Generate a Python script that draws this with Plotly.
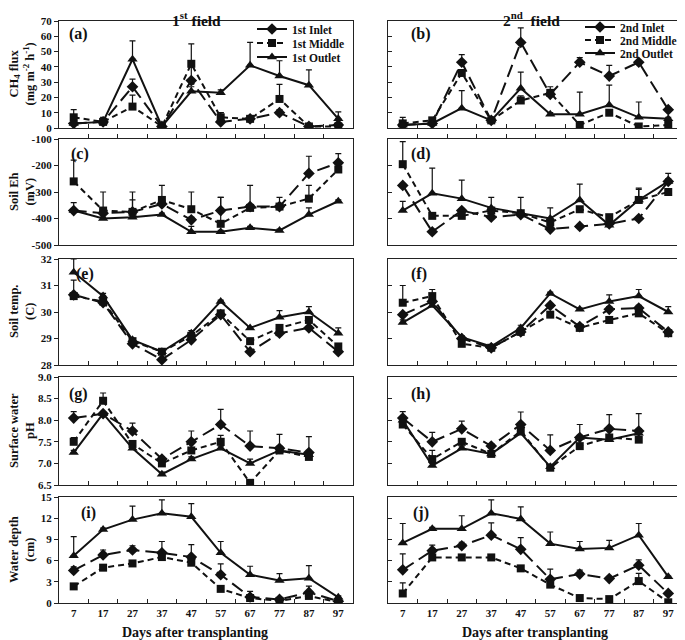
import plotly.graph_objects as go

# ---------------- data ----------------
days = [7, 17, 27, 37, 47, 57, 67, 77, 87, 97]
days_ph = [7, 17, 27, 37, 47, 57, 67, 77, 87]
minor_days = [12, 22, 32, 42, 52, 62, 72, 82, 92]
day_labels = ["7", "17", "27", "37", "47", "57", "67", "77", "87", "97"]

# (a) CH4 flux, 1st field
a_inlet = [3, 4, 27, 1, 31, 4, 6, 10, 1, 2]
a_inlet_err = [1, 1, 5, 0.5, 9, 6, 2, 2, 0.5, 1]
a_middle = [7, 4, 14, 1, 42, 7, 6, 19, 1, 1]
a_middle_err = [5, 2, 7.5, 0.5, 13, 3, 2, 9.5, 0.5, 0.5]
a_outlet = [3, 4, 45, 1, 24, 23, 41, 34, 28, 6]
a_outlet_err = [2, 3, 12, 1, 3, 2, 15, 10, 10, 4.5]

# (b) CH4 flux, 2nd field
b_inlet = [2, 3, 43, 5, 56, 22, 43, 34, 43, 12]
b_inlet_err = [1, 1, 5, 0.5, 9.5, 3, 3, 7, 1, 1]
b_middle = [3, 5, 36, 5, 18, 23, 2, 10, 1, 2]
b_middle_err = [4, 1, 2, 0.5, 3, 4, 0.5, 2, 0.5, 0.5]
b_outlet = [2, 3, 13, 5, 26, 9, 9, 15, 7, 6]
b_outlet_err = [1, 1, 11.5, 0.5, 10.5, 1, 14.5, 13, 10, 1]

# (c) Soil Eh, 1st field
c_inlet = [-370, -380, -375, -345, -405, -370, -355, -355, -230, -190]
c_inlet_err = [30, 5, 45, 5, 10, 50, 5, 5, 65, 35]
c_middle = [-260, -370, -375, -330, -365, -420, -360, -355, -325, -215]
c_middle_err = [80, 70, 75, 55, 65, 100, 85, 35, 50, 10]
c_outlet = [-370, -400, -395, -385, -450, -450, -435, -445, -385, -335]
c_outlet_err = [5, 5, 5, 5, 20, 5, 5, 5, 25, 5]

# (d) Soil Eh, 2nd field
d_inlet = [-275, -450, -370, -395, -385, -440, -430, -420, -400, -260]
d_inlet_err = [5, 5, 5, 5, 5, 5, 5, 5, 5, 10]
d_middle = [-195, -390, -390, -370, -380, -415, -365, -395, -330, -300]
d_middle_err = [85, 5, 5, 5, 5, 10, 5, 5, 45, 5]
d_outlet = [-370, -305, -325, -360, -380, -400, -330, -425, -330, -260]
d_outlet_err = [35, 95, 70, 40, 60, 40, 60, 5, 40, 30]

# (e) Soil temperature, 1st field
e_inlet = [30.65, 30.35, 28.8, 28.2, 28.95, 29.9, 28.5, 29.2, 29.4, 28.5]
e_inlet_err = [0.05, 0.05, 0.05, 0.05, 0.05, 0.05, 0.05, 0.05, 0.05, 0.05]
e_middle = [30.6, 30.4, 28.9, 28.5, 29.1, 29.95, 28.9, 29.4, 29.7, 28.7]
e_middle_err = [0.6, 0.1, 0.05, 0.05, 0.1, 0.1, 0.05, 0.1, 0.1, 0.1]
e_outlet = [31.5, 30.6, 28.95, 28.5, 29.2, 30.4, 29.4, 29.8, 30.0, 29.2]
e_outlet_err = [0.5, 0.1, 0.05, 0.05, 0.1, 0.05, 0.05, 0.25, 0.2, 0.2]

# (f) Soil temperature, 2nd field
f_inlet = [29.9, 30.4, 29.0, 28.65, 29.25, 30.25, 29.45, 30.1, 30.15, 29.25]
f_inlet_err = [0.05, 0.05, 0.05, 0.05, 0.05, 0.05, 0.05, 0.1, 0.1, 0.05]
f_middle = [30.35, 30.6, 28.8, 28.65, 29.25, 29.9, 29.4, 29.7, 29.95, 29.2]
f_middle_err = [0.65, 0.25, 0.05, 0.05, 0.05, 0.05, 0.05, 0.05, 0.05, 0.05]
f_outlet = [29.6, 30.25, 29.05, 28.7, 29.4, 30.7, 30.1, 30.4, 30.6, 30.0]
f_outlet_err = [0.1, 0.1, 0.05, 0.05, 0.1, 0.05, 0.05, 0.25, 0.25, 0.2]

# (g) Surface water pH, 1st field
g_inlet = [8.05, 8.15, 7.75, 7.1, 7.5, 7.9, 7.4, 7.35, 7.25]
g_inlet_err = [0.15, 0.05, 0.18, 0.05, 0.25, 0.35, 0.35, 0.05, 0.05]
g_middle = [7.5, 8.45, 7.45, 7.0, 7.3, 7.5, 6.55, 7.3, 7.15]
g_middle_err = [0.1, 0.18, 0.05, 0.05, 0.05, 0.15, 0.05, 0.05, 0.05]
g_outlet = [7.25, 8.15, 7.35, 6.75, 7.1, 7.35, 7.0, 7.3, 7.2]
g_outlet_err = [0.05, 0.05, 0.05, 0.05, 0.05, 0.05, 0.1, 0.37, 0.42]

# (h) Surface water pH, 2nd field
h_inlet = [8.05, 7.5, 7.8, 7.4, 7.9, 7.3, 7.6, 7.8, 7.75]
h_inlet_err = [0.15, 0.22, 0.18, 0.05, 0.29, 0.36, 0.3, 0.33, 0.05]
h_middle = [7.9, 7.1, 7.5, 7.22, 7.75, 6.9, 7.4, 7.6, 7.55]
h_middle_err = [0.05, 0.2, 0.05, 0.05, 0.05, 0.05, 0.05, 0.05, 0.05]
h_outlet = [8.0, 6.95, 7.35, 7.22, 7.7, 6.92, 7.6, 7.55, 7.7]
h_outlet_err = [0.05, 0.05, 0.05, 0.05, 0.05, 0.05, 0.05, 0.05, 0.45]

# (i) Water depth, 1st field
i_inlet = [4.6, 6.8, 7.5, 7.1, 6.5, 4.0, 0.85, 0.5, 1.5, 0.25]
i_inlet_err = [0.5, 0.7, 0.6, 1.6, 1.75, 1.55, 0.8, 0.2, 0.9, 0.1]
i_middle = [2.35, 5.0, 5.6, 6.5, 5.7, 2.0, 0.7, 0.3, 1.0, 0.1]
i_middle_err = [0.3, 0.2, 0.2, 0.2, 0.2, 0.3, 0.2, 0.1, 0.5, 0.1]
i_outlet = [6.7, 10.4, 11.8, 12.7, 12.2, 7.1, 4.0, 3.2, 3.5, 0.8]
i_outlet_err = [2.7, 0.2, 1.9, 1.9, 1.85, 1.6, 1.2, 0.95, 1.8, 0.2]

# (j) Water depth, 2nd field
j_inlet = [4.7, 7.4, 8.1, 9.6, 7.6, 3.35, 4.1, 3.45, 5.35, 1.35]
j_inlet_err = [2.25, 0.8, 0.5, 1.75, 1.65, 1.45, 0.55, 0.1, 0.75, 0.1]
j_middle = [1.35, 6.45, 6.45, 6.45, 4.9, 2.6, 0.7, 0.55, 3.1, 0.1]
j_middle_err = [1.5, 0.2, 0.1, 0.1, 0.1, 0.2, 0.1, 0.1, 1.1, 0.1]
j_outlet = [8.5, 10.5, 10.5, 12.7, 11.9, 8.4, 7.65, 7.8, 9.6, 3.7]
j_outlet_err = [2.75, 0.2, 1.85, 1.9, 1.7, 1.65, 1.05, 1.05, 1.65, 0.1]

# y-axis ticks per row
ch4_ticks = [0, 10, 20, 30, 40, 50, 60, 70]
eh_ticks = [-500, -400, -300, -200, -100]
temp_ticks = [28, 29, 30, 31, 32]
ph_ticks = [6.5, 7.0, 7.5, 8.0, 8.5, 9.0]
depth_ticks = [0, 3, 6, 9, 12, 15]

row_titles = ["CH<sub>4</sub> flux<br>(mg m<sup>-2</sup> h<sup>-1</sup>)",
              "Soil Eh<br>(mV)", "Soil temp.<br>(C)",
              "Surface water<br>pH", "Water depth<br>(cm)"]
panel_letters = ["(a)", "(b)", "(c)", "(d)", "(e)", "(f)", "(g)", "(h)", "(i)", "(j)"]

# ---------------- figure ----------------
W, H = 685, 640
OFF = 8                      # page body margin shifts the figure by this much
FONT = "Liberation Serif"
BLACK = "#111111"

def px2x(px):
    return (px - OFF) / W

def px2y(py):
    return 1 - (py - OFF) / H

fig = go.Figure()

col_px = [(59, 353), (388, 683)]
row_px = [(21, 128), (139, 245), (259, 365), (377, 485), (497, 603)]

def xd(c):
    return [px2x(col_px[c][0]), px2x(col_px[c][1])]

def yd(r):
    return [px2y(row_px[r][1]), px2y(row_px[r][0])]

styles = {
    "Inlet": dict(symbol="diamond", dash="13px,6px", size=9),
    "Middle": dict(symbol="square", dash="6px,4px", size=8),
    "Outlet": dict(symbol="triangle-up", dash="solid", size=9),
}
legend_ids = {(0, "Inlet"): "legend", (0, "Middle"): "legend2", (0, "Outlet"): "legend3",
              (1, "Inlet"): "legend4", (1, "Middle"): "legend5", (1, "Outlet"): "legend6"}

panels = [
    (days, [("Inlet", a_inlet, a_inlet_err), ("Middle", a_middle, a_middle_err), ("Outlet", a_outlet, a_outlet_err)]),
    (days, [("Inlet", b_inlet, b_inlet_err), ("Middle", b_middle, b_middle_err), ("Outlet", b_outlet, b_outlet_err)]),
    (days, [("Inlet", c_inlet, c_inlet_err), ("Middle", c_middle, c_middle_err), ("Outlet", c_outlet, c_outlet_err)]),
    (days, [("Inlet", d_inlet, d_inlet_err), ("Middle", d_middle, d_middle_err), ("Outlet", d_outlet, d_outlet_err)]),
    (days, [("Inlet", e_inlet, e_inlet_err), ("Middle", e_middle, e_middle_err), ("Outlet", e_outlet, e_outlet_err)]),
    (days, [("Inlet", f_inlet, f_inlet_err), ("Middle", f_middle, f_middle_err), ("Outlet", f_outlet, f_outlet_err)]),
    (days_ph, [("Inlet", g_inlet, g_inlet_err), ("Middle", g_middle, g_middle_err), ("Outlet", g_outlet, g_outlet_err)]),
    (days_ph, [("Inlet", h_inlet, h_inlet_err), ("Middle", h_middle, h_middle_err), ("Outlet", h_outlet, h_outlet_err)]),
    (days, [("Inlet", i_inlet, i_inlet_err), ("Middle", i_middle, i_middle_err), ("Outlet", i_outlet, i_outlet_err)]),
    (days, [("Inlet", j_inlet, j_inlet_err), ("Middle", j_middle, j_middle_err), ("Outlet", j_outlet, j_outlet_err)]),
]

y_settings = [
    ([0, 70], ch4_ticks, [str(v) for v in ch4_ticks]),
    ([-500, -100], eh_ticks, ["-500", "-400", "-300", "-200", "-100"]),
    ([28, 32], temp_ticks, [str(v) for v in temp_ticks]),
    ([6.5, 9.0], ph_ticks, ["%.1f" % v for v in ph_ticks]),
    ([0, 15], depth_ticks, [str(v) for v in depth_ticks]),
]

for k, (xs, series) in enumerate(panels):
    idx = k + 1
    row, col = k // 2, k % 2
    xa = "x" if idx == 1 else "x%d" % idx
    ya = "y" if idx == 1 else "y%d" % idx
    field = "1st" if col == 0 else "2nd"
    for name, vals, errs in series:
        st = styles[name]
        fig.add_trace(go.Scatter(
            x=xs, y=vals, xaxis=xa, yaxis=ya,
            mode="lines+markers",
            name="%s %s" % (field, name),
            line=dict(color=BLACK, width=2, dash=st["dash"]),
            marker=dict(symbol=st["symbol"], size=st["size"], color=BLACK),
            error_y=dict(type="data", symmetric=False, array=errs,
                         arrayminus=[0] * len(errs), color=BLACK,
                         thickness=1.2, width=3),
            showlegend=(row == 0),
            legend=legend_ids[(col, name)],
        ))

    rng, tv, tt = y_settings[row]
    xkey = "xaxis" if idx == 1 else "xaxis%d" % idx
    ykey = "yaxis" if idx == 1 else "yaxis%d" % idx
    xcfg = dict(domain=xd(col), anchor=ya, range=[2, 102], automargin=False,
                showline=True, mirror=True, linecolor="#222", linewidth=1.3,
                showgrid=False, zeroline=False, tickvals=days, ticktext=day_labels,
                ticks="", showticklabels=(row == 4),
                tickfont=dict(family=FONT, size=11, color=BLACK, weight="bold"),
                minor=dict(tickvals=minor_days, ticks="inside", ticklen=4,
                           tickcolor="#222", tickwidth=1.2, showgrid=False))
    if row == 1:
        xcfg["side"] = "top"
        xcfg["minor"]["ticks"] = "outside"
    ycfg = dict(domain=yd(row), anchor=xa, range=rng, automargin=False,
                showline=True, mirror=True, linecolor="#222", linewidth=1.3,
                showgrid=False, zeroline=False, tickvals=tv, ticktext=tt,
                ticks=("outside" if col == 0 else "inside"), ticklen=4,
                tickcolor="#222", tickwidth=1.2,
                showticklabels=(col == 0),
                tickfont=dict(family=FONT, size=11, color=BLACK, weight="bold"))
    fig.update_layout({xkey: xcfg, ykey: ycfg})

def ann(text, px, py, size, xanchor="center", yanchor="middle", angle=0):
    return dict(text=text, x=px2x(px), y=px2y(py), xref="paper", yref="paper",
                showarrow=False, xanchor=xanchor, yanchor=yanchor, textangle=angle,
                align="center", borderpad=0,
                font=dict(family=FONT, size=size, color=BLACK, weight="bold"))

annotations = [
    ann("1<sup>st</sup> field", 196, 8, 15.5, yanchor="top"),
    ann("2<sup>nd</sup>  field", 531, 8, 15.5, yanchor="top"),
]
for r, t in enumerate(row_titles):
    annotations.append(ann(t, 22, (row_px[r][0] + row_px[r][1]) / 2, 12.5, angle=-90))
letter_pos = [(68, 34), (410, 34), (70, 154), (410, 154), (75, 274), (410, 274),
              (68, 394), (410, 394), (80, 513), (412, 513)]
for lt, (px, py) in zip(panel_letters, letter_pos):
    annotations.append(ann(lt, px, py, 16, xanchor="left"))
for cx in (195, 535):
    annotations.append(ann("Days after transplanting", cx, 632, 14))

legend_common = dict(xanchor="left", yanchor="middle", bgcolor="rgba(0,0,0,0)",
                     borderwidth=0, tracegroupgap=0, itemwidth=30,
                     font=dict(family=FONT, size=11.5, color=BLACK, weight="bold"))
leg_pos = {"legend": (252, 29), "legend2": (252, 43), "legend3": (252, 57),
           "legend4": (580, 27), "legend5": (580, 40), "legend6": (580, 53)}
legend_layout = {key: dict(x=px2x(px), y=px2y(py), **legend_common)
                 for key, (px, py) in leg_pos.items()}

fig.update_layout(
    width=W, height=H,
    margin=dict(l=0, r=0, t=0, b=0),
    paper_bgcolor="white", plot_bgcolor="white",
    font=dict(family=FONT, color=BLACK),
    annotations=annotations,
    **legend_layout,
)

fig.write_html("out.html")
